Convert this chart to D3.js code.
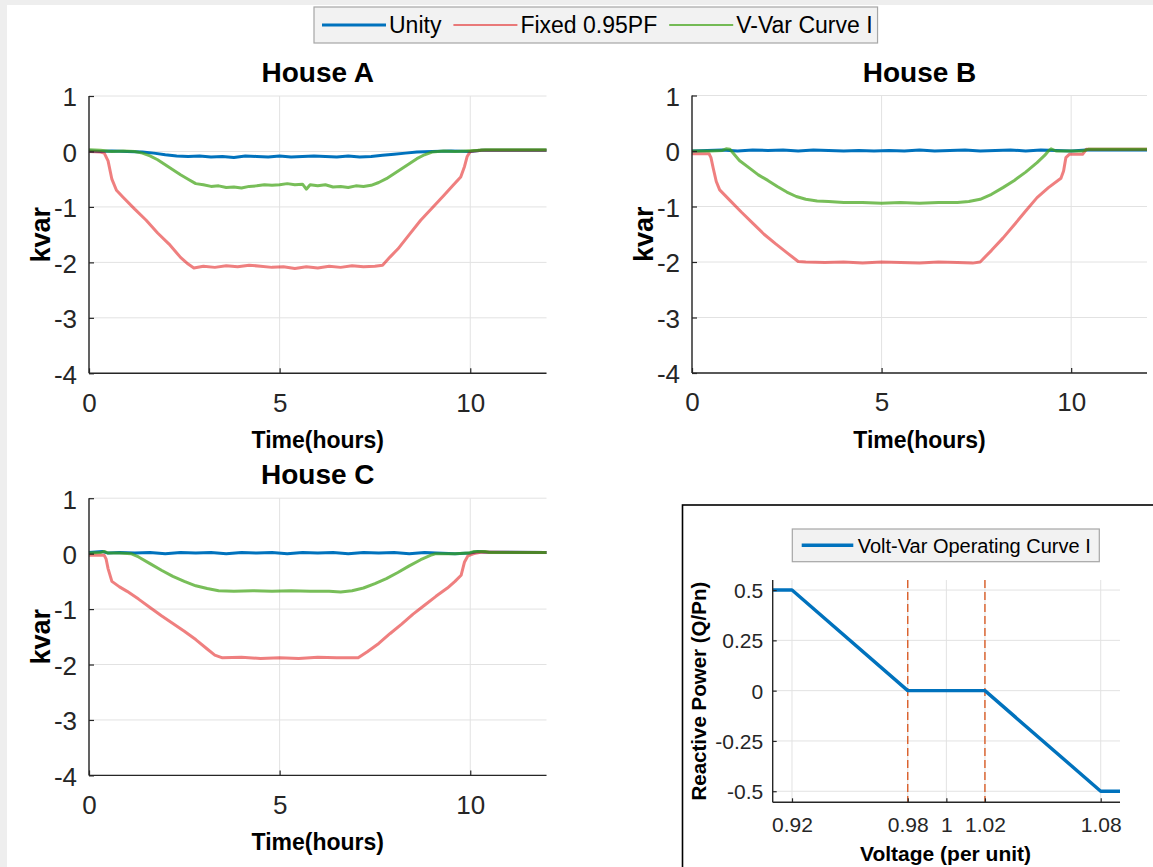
<!DOCTYPE html>
<html>
<head>
<meta charset="utf-8">
<script src="https://cdn.jsdelivr.net/npm/d3@7"></script>
<style>
  body { margin: 0; background: #fff; }
  svg { display: block; font-family: "Liberation Sans", Arial, Helvetica, sans-serif; }
</style>
</head>
<body>
<svg id="fig" width="1153" height="867"></svg>
<script>
// ---- Axis ticks ----
const timeTicks = [0, 5, 10];
const kvarTicks = [-4, -3, -2, -1, 0, 1];
const voltTicks = [0.92, 0.98, 1, 1.02, 1.08];
const qTicks = [-0.5, -0.25, 0, 0.25, 0.5];

// ---- Series names ----
const seriesNames = ["Unity", "Fixed 0.95PF", "V-Var Curve I"];

// ---- House A: [hours, kvar] ----
const houseA_unity = [[0,0.01],[0.3,0.0],[0.6,0.01],[1.0,0.0],[1.4,-0.01],[1.7,-0.03],[2.0,-0.06],[2.3,-0.08],[2.6,-0.09],[2.9,-0.08],[3.2,-0.1],[3.5,-0.09],[3.8,-0.11],[4.1,-0.08],[4.4,-0.09],[4.7,-0.1],[5.0,-0.08],[5.3,-0.1],[5.6,-0.09],[5.9,-0.08],[6.2,-0.09],[6.5,-0.1],[6.8,-0.08],[7.1,-0.1],[7.4,-0.09],[7.7,-0.07],[8.0,-0.05],[8.3,-0.03],[8.6,-0.01],[9.0,0.0],[9.5,0.01],[10.0,0.0],[10.3,0.02],[12,0.02]];
const houseA_fixed = [[0,0.0],[0.3,-0.01],[0.4,-0.03],[0.5,-0.17],[0.6,-0.5],[0.72,-0.7],[0.9,-0.83],[1.2,-1.04],[1.5,-1.24],[1.8,-1.47],[2.1,-1.67],[2.4,-1.91],[2.6,-2.03],[2.75,-2.1],[3.0,-2.07],[3.3,-2.09],[3.6,-2.06],[3.9,-2.08],[4.2,-2.05],[4.5,-2.07],[4.8,-2.09],[5.1,-2.08],[5.4,-2.11],[5.7,-2.08],[6.0,-2.1],[6.3,-2.07],[6.6,-2.09],[6.9,-2.06],[7.2,-2.08],[7.5,-2.07],[7.7,-2.05],[7.9,-1.9],[8.1,-1.76],[8.4,-1.5],[8.7,-1.24],[9.0,-1.02],[9.3,-0.8],[9.55,-0.61],[9.75,-0.46],[9.85,-0.27],[9.92,-0.09],[10.0,0.0],[10.3,0.02],[12,0.02]];
const houseA_vvar = [[0,0.03],[0.3,0.02],[0.6,0.0],[0.9,0.01],[1.2,0.0],[1.4,-0.03],[1.6,-0.08],[1.8,-0.15],[2.0,-0.24],[2.2,-0.33],[2.4,-0.42],[2.6,-0.5],[2.8,-0.58],[3.0,-0.6],[3.2,-0.63],[3.4,-0.62],[3.6,-0.65],[3.8,-0.64],[4.0,-0.66],[4.2,-0.63],[4.4,-0.62],[4.6,-0.6],[4.8,-0.61],[5.0,-0.6],[5.2,-0.58],[5.4,-0.6],[5.6,-0.59],[5.7,-0.68],[5.8,-0.6],[6.0,-0.62],[6.2,-0.6],[6.4,-0.64],[6.6,-0.63],[6.8,-0.65],[7.0,-0.62],[7.2,-0.63],[7.4,-0.61],[7.6,-0.56],[7.8,-0.49],[8.0,-0.4],[8.2,-0.31],[8.4,-0.22],[8.6,-0.13],[8.8,-0.06],[9.0,-0.01],[9.3,0.01],[9.6,0.0],[9.9,0.01],[10.2,0.02],[10.4,0.03],[12,0.03]];

// ---- House B ----
const houseB_unity = [[0,0.0],[0.4,0.01],[0.8,0.02],[1.2,0.0],[1.6,0.02],[2.0,0.01],[2.4,0.02],[2.8,0.0],[3.2,0.02],[3.6,0.01],[4.0,0.0],[4.4,0.01],[4.8,0.0],[5.2,0.01],[5.6,0.0],[6.0,0.02],[6.4,0.0],[6.8,0.01],[7.2,0.02],[7.6,0.0],[8.0,0.01],[8.4,0.02],[8.8,0.0],[9.2,0.02],[9.6,0.01],[10.0,0.0],[10.4,0.02],[12,0.02]];
const houseB_fixed = [[0,-0.05],[0.45,-0.05],[0.5,-0.12],[0.56,-0.31],[0.64,-0.55],[0.73,-0.7],[1.0,-0.89],[1.3,-1.1],[1.6,-1.3],[1.9,-1.5],[2.2,-1.67],[2.5,-1.83],[2.8,-1.99],[3.0,-2.0],[3.5,-2.01],[4.0,-2.0],[4.5,-2.02],[5.0,-2.0],[5.5,-2.01],[6.0,-2.02],[6.5,-2.0],[7.0,-2.01],[7.4,-2.02],[7.6,-2.0],[7.9,-1.79],[8.2,-1.57],[8.5,-1.33],[8.8,-1.08],[9.1,-0.84],[9.4,-0.66],[9.73,-0.49],[9.8,-0.36],[9.86,-0.12],[9.95,-0.06],[10.3,-0.06],[10.4,0.03],[12,0.03]];
const houseB_vvar = [[0,0.0],[0.5,0.0],[0.8,0.01],[0.9,0.04],[1.0,0.03],[1.1,-0.05],[1.25,-0.17],[1.5,-0.3],[1.75,-0.43],[2.0,-0.53],[2.25,-0.64],[2.5,-0.74],[2.75,-0.82],[3.0,-0.87],[3.3,-0.9],[3.6,-0.91],[4.0,-0.93],[4.5,-0.93],[5.0,-0.94],[5.5,-0.93],[6.0,-0.94],[6.5,-0.93],[7.0,-0.93],[7.3,-0.91],[7.6,-0.87],[7.9,-0.78],[8.2,-0.66],[8.5,-0.53],[8.8,-0.38],[9.1,-0.21],[9.3,-0.08],[9.4,0.0],[9.47,0.04],[9.6,0.0],[10.0,0.0],[10.3,0.0],[10.45,0.03],[12,0.03]];

// ---- House C ----
const houseC_unity = [[0,0.02],[0.35,0.04],[0.5,0.01],[0.8,0.02],[1.2,0.01],[1.6,0.02],[2.0,0.0],[2.4,0.02],[2.8,0.01],[3.2,0.02],[3.6,0.0],[4.0,0.02],[4.4,0.01],[4.8,0.02],[5.2,0.0],[5.6,0.02],[6.0,0.01],[6.4,0.02],[6.8,0.0],[7.2,0.02],[7.6,0.01],[8.0,0.02],[8.4,0.0],[8.8,0.02],[9.1,0.01],[9.6,0.0],[10.0,0.01],[10.2,0.04],[10.4,0.03],[12,0.02]];
const houseC_fixed = [[0,-0.03],[0.4,-0.03],[0.45,-0.1],[0.5,-0.27],[0.6,-0.5],[0.8,-0.6],[1.0,-0.68],[1.3,-0.82],[1.6,-0.97],[1.9,-1.12],[2.2,-1.26],[2.5,-1.4],[2.8,-1.55],[3.1,-1.72],[3.3,-1.83],[3.5,-1.88],[4.0,-1.87],[4.5,-1.89],[5.0,-1.88],[5.5,-1.89],[6.0,-1.87],[6.5,-1.88],[7.06,-1.88],[7.3,-1.77],[7.6,-1.62],[7.9,-1.44],[8.2,-1.27],[8.5,-1.09],[8.8,-0.93],[9.1,-0.77],[9.4,-0.62],[9.6,-0.5],[9.76,-0.39],[9.85,-0.15],[9.94,-0.04],[10.1,0.0],[10.3,0.03],[12,0.02]];
const houseC_vvar = [[0,0.01],[0.3,0.02],[0.4,0.04],[0.5,0.01],[0.8,0.01],[1.1,0.0],[1.3,-0.06],[1.6,-0.18],[1.9,-0.3],[2.2,-0.41],[2.5,-0.5],[2.8,-0.58],[3.1,-0.63],[3.4,-0.67],[3.8,-0.68],[4.3,-0.67],[4.8,-0.68],[5.3,-0.67],[5.8,-0.68],[6.3,-0.68],[6.6,-0.69],[6.9,-0.67],[7.2,-0.62],[7.5,-0.54],[7.8,-0.45],[8.1,-0.34],[8.4,-0.22],[8.7,-0.11],[9.0,-0.02],[9.1,0.0],[9.6,0.0],[9.95,0.01],[10.1,0.04],[10.4,0.04],[10.5,0.02],[12,0.02]];

// ---- Volt-Var operating curve ----
const vvVoltage = [0.91, 0.92, 0.98, 1.02, 1.08, 1.09];
const vvReactive = [0.5, 0.5, 0, 0, -0.5, -0.5];
const deadbandEdges = [0.98, 1.02];

// ---------------------------------------------------------------
const svg = d3.select("#fig");
const FONT_TICK = 26;
const plain = d => String(d);   // hyphen-minus labels

const styles = [
  { color: "#0072bd", opacity: 1, width: 3 },
  { color: "#e00000", opacity: 0.5, width: 3 },
  { color: "#3ea213", opacity: 0.7, width: 3 }
];

// page frame
svg.append("rect").attr("width", 1153).attr("height", 867).attr("fill", "#fff");
svg.append("rect").attr("x", 0).attr("y", 0).attr("width", 1153).attr("height", 5).attr("fill", "#eeeeee");
svg.append("rect").attr("x", 0).attr("y", 0).attr("width", 7).attr("height", 867).attr("fill", "#eeeeee");

const panels = [
  { title: "House A", series: [houseA_unity, houseA_fixed, houseA_vvar], left: 89, right: 546.5, top: 96, bottom: 373.3 },
  { title: "House B", series: [houseB_unity, houseB_fixed, houseB_vvar], left: 692, right: 1147, top: 95.5, bottom: 373 },
  { title: "House C", series: [houseC_unity, houseC_fixed, houseC_vvar], left: 89, right: 546.5, top: 498.2, bottom: 775.4 }
];

function styleAxis(g, size) {
  g.select(".domain").remove();
  g.selectAll(".tick line").attr("stroke", "#262626").attr("stroke-width", 1.2);
  g.selectAll(".tick text").attr("fill", "#262626").attr("font-size", size).attr("font-family", null);
}

panels.forEach(p => {
  const x = d3.scaleLinear().domain([0, 12]).range([p.left, p.right]);
  const y = d3.scaleLinear().domain([-4, 1]).range([p.bottom, p.top]);
  const g = svg.append("g");

  // grid
  g.append("g").selectAll("line").data(timeTicks).join("line")
    .attr("x1", d => x(d)).attr("x2", d => x(d))
    .attr("y1", p.top).attr("y2", p.bottom)
    .attr("stroke", "#e2e2e2").attr("stroke-width", 1);
  g.append("g").selectAll("line").data(kvarTicks).join("line")
    .attr("x1", p.left).attr("x2", p.right)
    .attr("y1", d => y(d)).attr("y2", d => y(d))
    .attr("stroke", "#e2e2e2").attr("stroke-width", 1);

  // series
  const line = d3.line().x(d => x(d[0])).y(d => y(d[1]));
  p.series.forEach((s, i) => {
    g.append("path").datum(s).attr("d", line)
      .attr("fill", "none")
      .attr("stroke", styles[i].color)
      .attr("stroke-opacity", styles[i].opacity)
      .attr("stroke-width", styles[i].width)
      .attr("stroke-linejoin", "round");
  });

  // axes
  const ax = g.append("g").attr("transform", `translate(0,${p.bottom})`)
    .call(d3.axisBottom(x).tickValues(timeTicks).tickFormat(plain)
      .tickSizeInner(-5).tickSizeOuter(0).tickPadding(20));
  styleAxis(ax, FONT_TICK);
  const ay = g.append("g").attr("transform", `translate(${p.left},0)`)
    .call(d3.axisLeft(y).tickValues(kvarTicks).tickFormat(plain)
      .tickSizeInner(-5).tickSizeOuter(0).tickPadding(12));
  styleAxis(ay, FONT_TICK);
  ay.selectAll(".tick text").attr("dy", "0.38em");

  g.append("line").attr("x1", p.left).attr("x2", p.left).attr("y1", p.top).attr("y2", p.bottom)
    .attr("stroke", "#262626").attr("stroke-width", 1.4);
  g.append("line").attr("x1", p.left).attr("x2", p.right).attr("y1", p.bottom).attr("y2", p.bottom)
    .attr("stroke", "#262626").attr("stroke-width", 1.4);

  // labels
  const cx = (p.left + p.right) / 2;
  g.append("text").attr("x", cx).attr("y", p.top - 14).attr("text-anchor", "middle")
    .attr("font-size", 28).attr("font-weight", "bold").attr("fill", "#000").text(p.title);
  g.append("text").attr("x", cx).attr("y", p.bottom + 75).attr("text-anchor", "middle")
    .attr("font-size", 23).attr("font-weight", "bold").attr("fill", "#000").text("Time(hours)");
  g.append("text").attr("transform", `translate(${p.left - 39},${(p.top + p.bottom) / 2}) rotate(-90)`)
    .attr("text-anchor", "middle").attr("font-size", 27).attr("font-weight", "bold")
    .attr("fill", "#000").text("kvar");
});

// ---- Shared legend at top ----
(function () {
  const lg = svg.append("g");
  const box = lg.append("rect").attr("y", 7).attr("height", 36)
    .attr("fill", "#f2f2f2").attr("stroke", "#a6a6a6").attr("stroke-width", 1.2);
  let cur = 322;
  const cy = 25;
  seriesNames.forEach((name, i) => {
    lg.append("line").attr("x1", cur).attr("x2", cur + 64).attr("y1", cy).attr("y2", cy)
      .attr("stroke", styles[i].color).attr("stroke-opacity", styles[i].opacity)
      .attr("stroke-width", i === 0 ? 3 : 2.2);
    cur += 67;
    const t = lg.append("text").attr("x", cur).attr("y", cy + 8).attr("font-size", 23)
      .attr("fill", "#000").text(name);
    cur += t.node().getComputedTextLength() + 12;
  });
  box.attr("x", 314).attr("width", cur - 12 + 5 - 314);
})();

// ---- Volt-Var operating curve panel ----
(function () {
  const left = 772.7, right = 1120, top = 580, bottom = 802.3;
  const g = svg.append("g");
  g.append("rect").attr("x", 682.5).attr("y", 505).attr("width", 520).attr("height", 420)
    .attr("fill", "#fff").attr("stroke", "#000").attr("stroke-width", 1.6);

  const x = d3.scaleLinear().domain([0.91, 1.09]).range([left, right]);
  const y = d3.scaleLinear().domain([-0.555, 0.55]).range([bottom, top]);

  g.append("g").selectAll("line").data(voltTicks).join("line")
    .attr("x1", d => x(d)).attr("x2", d => x(d)).attr("y1", top).attr("y2", bottom)
    .attr("stroke", "#e2e2e2");
  g.append("g").selectAll("line").data(qTicks).join("line")
    .attr("x1", left).attr("x2", right).attr("y1", d => y(d)).attr("y2", d => y(d))
    .attr("stroke", "#e2e2e2");

  // deadband edges
  g.append("g").selectAll("line").data(deadbandEdges).join("line")
    .attr("x1", d => x(d)).attr("x2", d => x(d)).attr("y1", top).attr("y2", bottom)
    .attr("stroke", "#d95319").attr("stroke-width", 1.3).attr("stroke-dasharray", "8,4");

  const pts = vvVoltage.map((v, i) => [v, vvReactive[i]]);
  g.append("path").datum(pts)
    .attr("d", d3.line().x(d => x(d[0])).y(d => y(d[1])))
    .attr("fill", "none").attr("stroke", "#0072bd").attr("stroke-width", 3.4)
    .attr("stroke-linejoin", "round");

  const ax = g.append("g").attr("transform", `translate(0,${bottom})`)
    .call(d3.axisBottom(x).tickValues(voltTicks).tickFormat(plain)
      .tickSizeInner(-4).tickSizeOuter(0).tickPadding(15));
  styleAxis(ax, 21);
  const ay = g.append("g").attr("transform", `translate(${left},0)`)
    .call(d3.axisLeft(y).tickValues(qTicks).tickFormat(plain)
      .tickSizeInner(-4).tickSizeOuter(0).tickPadding(9.5));
  styleAxis(ay, 21);
  ay.selectAll(".tick text").attr("dy", "0.36em");

  g.append("line").attr("x1", left).attr("x2", left).attr("y1", top).attr("y2", bottom)
    .attr("stroke", "#262626").attr("stroke-width", 1.4);
  g.append("line").attr("x1", left).attr("x2", right).attr("y1", bottom).attr("y2", bottom)
    .attr("stroke", "#262626").attr("stroke-width", 1.4);

  g.append("text").attr("x", 945.5).attr("y", 861).attr("text-anchor", "middle")
    .attr("font-size", 21).attr("font-weight", "bold").attr("fill", "#000").text("Voltage (per unit)");
  g.append("text").attr("transform", `translate(706,${(top + bottom) / 2}) rotate(-90)`)
    .attr("text-anchor", "middle").attr("font-size", 20.5).attr("font-weight", "bold")
    .attr("fill", "#000").text("Reactive Power (Q/Pn)");

  // legend
  g.append("rect").attr("x", 792.3).attr("y", 529).attr("width", 307).attr("height", 32.7)
    .attr("fill", "#f2f2f2").attr("stroke", "#a6a6a6").attr("stroke-width", 1.2);
  g.append("line").attr("x1", 801.7).attr("x2", 853.3).attr("y1", 545.3).attr("y2", 545.3)
    .attr("stroke", "#0072bd").attr("stroke-width", 3.4);
  g.append("text").attr("x", 857.7).attr("y", 552.5).attr("font-size", 20)
    .attr("fill", "#000").text("Volt-Var Operating Curve I");
})();
</script>
</body>
</html>
